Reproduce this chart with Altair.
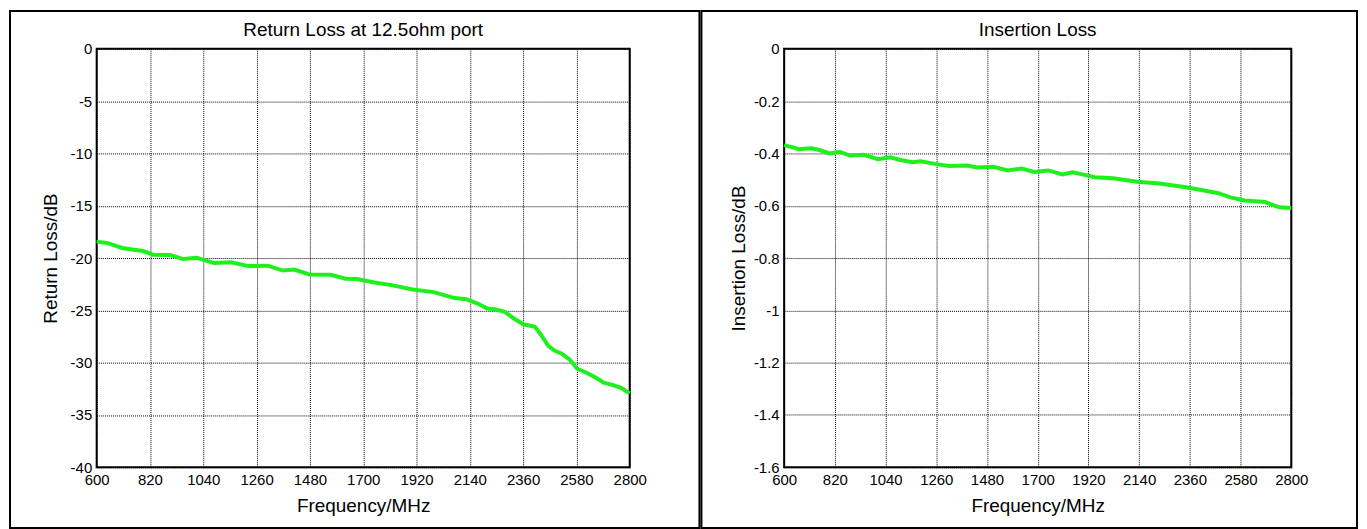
import altair as alt
import pandas as pd

# ---------------- data ----------------
rl_freq = [600, 643, 706, 753, 792, 832, 903, 958, 1013, 1084, 1155, 1226, 1305, 1368,
           1415, 1478, 1565, 1628, 1675, 1746, 1817, 1904, 1991, 2078, 2125, 2172, 2212,
           2243, 2282, 2322, 2361, 2409, 2432, 2464, 2488, 2519, 2551, 2583, 2622, 2661,
           2693, 2732, 2764, 2800]
rl_db = [-18.43, -18.56, -19.04, -19.2, -19.33, -19.68, -19.71, -20.1, -19.97, -20.48,
         -20.4, -20.77, -20.73, -21.2, -21.1, -21.57, -21.6, -21.98, -22.0, -22.33,
         -22.59, -23.0, -23.26, -23.83, -23.93, -24.35, -24.82, -24.89, -25.11, -25.78,
         -26.33, -26.58, -27.28, -28.4, -28.82, -29.14, -29.68, -30.58, -30.96, -31.44,
         -31.92, -32.14, -32.4, -32.94]

il_freq = [600, 630, 665, 718, 753, 797, 841, 885, 946, 1008, 1060, 1104, 1157, 1192,
           1254, 1315, 1394, 1438, 1508, 1570, 1631, 1684, 1746, 1807, 1851, 1904, 1948,
           2027, 2132, 2229, 2343, 2422, 2484, 2536, 2598, 2686, 2747, 2800]
il_db = [-0.368, -0.375, -0.384, -0.38, -0.387, -0.40, -0.394, -0.408, -0.405, -0.422,
         -0.415, -0.425, -0.434, -0.43, -0.44, -0.448, -0.446, -0.454, -0.451, -0.465,
         -0.458, -0.471, -0.465, -0.48, -0.472, -0.482, -0.491, -0.495, -0.508, -0.515,
         -0.529, -0.542, -0.552, -0.568, -0.58, -0.586, -0.606, -0.609]

x_ticks = [600, 820, 1040, 1260, 1480, 1700, 1920, 2140, 2360, 2580, 2800]
rl_ticks = [-40, -35, -30, -25, -20, -15, -10, -5, 0]
il_ticks = [-1.6, -1.4, -1.2, -1.0, -0.8, -0.6, -0.4, -0.2, 0]

titles = ["Return Loss at 12.5ohm port", "Insertion Loss"]
y_titles = ["Return Loss/dB", "Insertion Loss/dB"]
x_title = "Frequency/MHz"

FONT = "Liberation Sans"
GREEN = "#1ef01e"
PLOT_H = 420


def panel(freq, db, idx, ydomain, yticks, width, box_left, box_right):
    df = pd.DataFrame({"f": freq, "v": db})
    line = alt.Chart(df).mark_line(color=GREEN, strokeWidth=4).encode(
        x=alt.X("f:Q",
                scale=alt.Scale(domain=[600, 2800], nice=False, zero=False),
                axis=alt.Axis(values=x_ticks, title=x_title,
                              labelExpr="toString(datum.value)",
                              titleX=width / 2, titleY=38,
                              titleBaseline="middle", titleAlign="center")),
        y=alt.Y("v:Q",
                scale=alt.Scale(domain=ydomain, nice=False, zero=False),
                axis=alt.Axis(values=yticks, title=y_titles[idx],
                              labelExpr="toString(datum.value)",
                              titleX=-46, titleY=PLOT_H / 2, titleAngle=270,
                              titleBaseline="middle", titleAlign="center")),
    )
    frame = alt.Chart(pd.DataFrame({"k": [0]})).mark_rect(
        fill="white", fillOpacity=0, stroke="black", strokeWidth=2
    ).encode(
        x=alt.value(box_left), x2=alt.value(box_right),
        y=alt.value(-38), y2=alt.value(481),
    )
    title = alt.Chart(pd.DataFrame({"t": [titles[idx]]})).mark_text(
        font=FONT, fontSize=19, fontWeight="normal", color="black",
        align="center", baseline="middle"
    ).encode(
        text="t:N", x=alt.value(width / 2), y=alt.value(-19),
    )
    return alt.layer(frame, line, title).properties(width=width, height=PLOT_H)


left = panel(rl_freq, rl_db, 0, [-40, 0], rl_ticks, 535, -87, 605)
right = panel(il_freq, il_db, 1, [-1.6, 0], il_ticks, 509, -83, 575)

chart = alt.hconcat(left, right, spacing=-2).properties(
    padding={"left": 0, "top": 0, "right": 0, "bottom": 0}
).configure_view(
    stroke="black", strokeWidth=2
).configure_axis(
    labelFont=FONT, labelFontSize=15, labelColor="black",
    titleFont=FONT, titleFontSize=19, titleFontWeight="normal", titleColor="black",
    grid=True, gridColor="black", gridDash=[1, 1], gridWidth=1, gridOpacity=1,
    ticks=False, domain=False, labelFlush=False, labelOverlap=False, labelPadding=5,
)

chart.save("out.html", embed_options={"renderer": "svg", "actions": False})
